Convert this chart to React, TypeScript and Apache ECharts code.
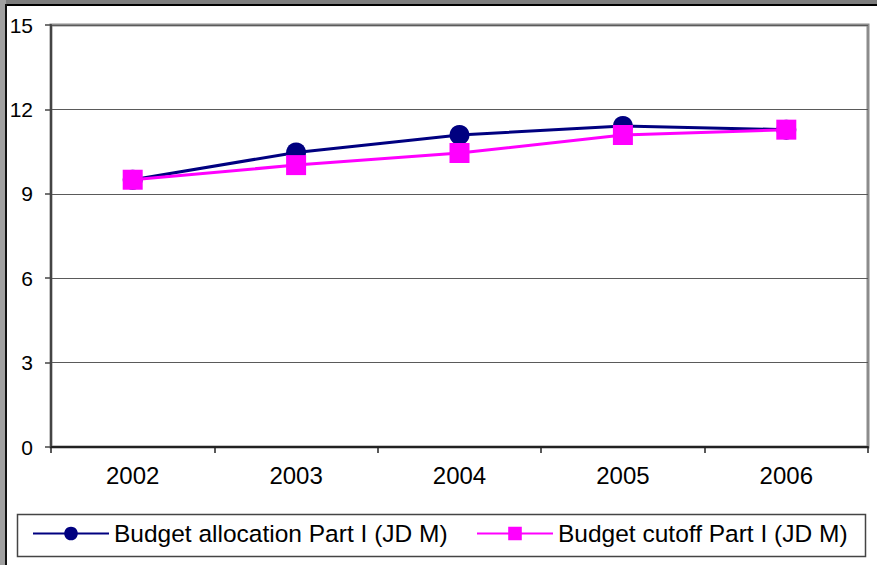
import React, { useEffect, useRef } from "react";
import * as echarts from "echarts";

const categories = ["2002", "2003", "2004", "2005", "2006"];
const allocation = [9.5, 10.47, 11.09, 11.41, 11.28];
const cutoff = [9.5, 10.02, 10.45, 11.09, 11.28];
const yTicks = { min: 0, max: 15, interval: 3 };
const seriesNames = ["Budget allocation Part I (JD M)", "Budget cutoff Part I (JD M)"];

const FONT = "'Liberation Sans', Arial, sans-serif";

export default function App() {
  const ref = useRef<HTMLDivElement>(null);
  useEffect(() => {
    if (!ref.current) return;
    const chart = echarts.init(ref.current, undefined, { renderer: "svg" });
    chart.setOption({
      animation: false,
      backgroundColor: "#ffffff",
      textStyle: { fontFamily: FONT },
      grid: {
        left: 51,
        top: 25,
        right: 9,
        bottom: 118,
        show: true,
        borderColor: "#8c8c8c",
        borderWidth: 3,
        backgroundColor: "transparent",
      },
      xAxis: {
        type: "category",
        data: categories,
        boundaryGap: true,
        axisLine: { lineStyle: { color: "#222", width: 2 } },
        axisTick: { show: true, length: 6, lineStyle: { color: "#222", width: 1.5 } },
        axisLabel: { color: "#000", fontSize: 24, fontFamily: FONT, margin: 16 },
      },
      yAxis: {
        type: "value",
        min: yTicks.min,
        max: yTicks.max,
        interval: yTicks.interval,
        axisLine: { show: true, lineStyle: { color: "#444", width: 2 } },
        axisTick: { show: true, length: 6, lineStyle: { color: "#444", width: 1.5 } },
        axisLabel: { color: "#000", fontSize: 21, fontFamily: FONT, margin: 18 },
        splitLine: { show: true, lineStyle: { color: "#5a5a5a", width: 1.2 } },
      },
      legend: [
        {
          data: [seriesNames[0]],
          left: 32,
          top: 521,
          padding: 0,
          itemWidth: 76,
          itemHeight: 17,
          itemGap: 0,
          textStyle: { color: "#000", fontSize: 24.5, fontFamily: FONT, padding: [0, 0, 0, 0] },
        },
        {
          data: [seriesNames[1]],
          left: 476,
          top: 521,
          padding: 0,
          itemWidth: 76,
          itemHeight: 17,
          itemGap: 0,
          textStyle: { color: "#000", fontSize: 24.5, fontFamily: FONT, padding: [0, 0, 0, 0] },
        },
      ],
      graphic: [
        { type: "rect", left: 0, top: 0, shape: { width: 877, height: 4 }, style: { fill: "#7d7d7d" }, silent: true },
        { type: "rect", left: 0, top: 4, shape: { width: 877, height: 2 }, style: { fill: "#000" }, silent: true },
        { type: "rect", left: 0, top: 0, shape: { width: 6, height: 565 }, style: { fill: "#a0a0a0" }, silent: true },
        { type: "rect", left: 5, top: 4, shape: { width: 2, height: 561 }, style: { fill: "#111" }, silent: true },
        {
          type: "rect",
          left: 15,
          top: 512,
          shape: { width: 848, height: 42 },
          style: { fill: "none", stroke: "#444", lineWidth: 1.5 },
          silent: true,
          z: -1,
        },
      ],
      series: [
        {
          name: seriesNames[0],
          type: "line",
          data: allocation,
          symbol: "circle",
          symbolSize: 20,
          lineStyle: { color: "#000080", width: 3 },
          itemStyle: { color: "#000080" },
          z: 2,
        },
        {
          name: seriesNames[1],
          type: "line",
          data: cutoff,
          symbol: "rect",
          symbolSize: 20,
          lineStyle: { color: "#ff00ff", width: 3 },
          itemStyle: { color: "#ff00ff" },
          z: 3,
        },
      ],
    });
    return () => chart.dispose();
  }, []);
  return (
    <div
      ref={ref}
      style={{ position: "fixed", left: 0, top: 0, width: 877, height: 565, background: "#fff" }}
    />
  );
}
